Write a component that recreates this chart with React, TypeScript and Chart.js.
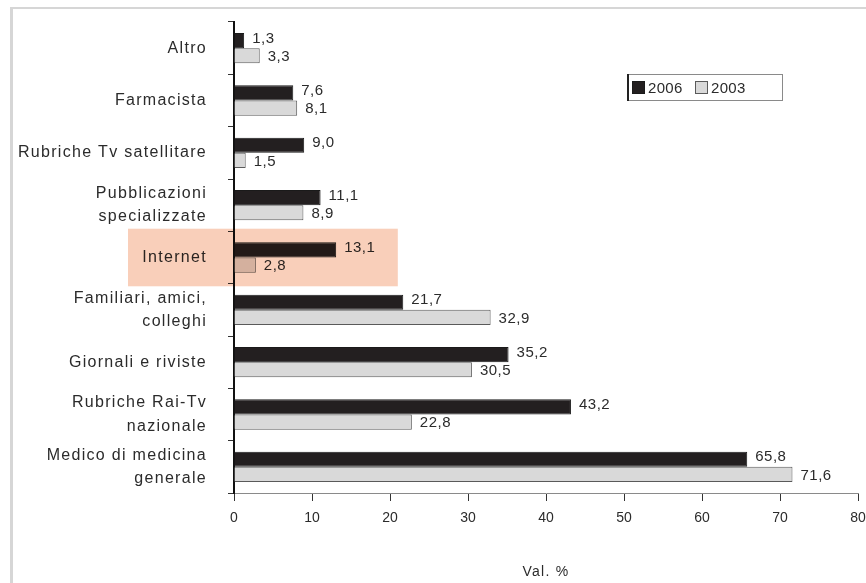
import { useEffect, useRef } from "react";
import { Chart, registerables } from "chart.js";

Chart.register(...registerables);

// Sources of health information, share of respondents (%)
const categories: (string | string[])[] = [
  "Altro",
  "Farmacista",
  "Rubriche Tv satellitare",
  ["Pubblicazioni", "specializzate"],
  "Internet",
  ["Familiari, amici,", "colleghi"],
  "Giornali e riviste",
  ["Rubriche Rai-Tv", "nazionale"],
  ["Medico di medicina", "generale"],
];
const values2006 = [1.3, 7.6, 9.0, 11.1, 13.1, 21.7, 35.2, 43.2, 65.8];
const values2003 = [3.3, 8.1, 1.5, 8.9, 2.8, 32.9, 30.5, 22.8, 71.6];
const seriesNames = ["2006", "2003"];
const xMin = 0;
const xMax = 80;
const xStep = 10;
const axisTitle = "Val. %";
// Row that gets the salmon highlight band, and how far along the value axis it reaches
const highlightIndex = 4;
const highlightReach = 21;

const FONT = "'Liberation Sans', Arial, sans-serif";
const DARK = "#231f20";
const LIGHT = "#d9d9d9";

const fmt = (v: number) => v.toFixed(1).replace(".", ",");

const framePlugin = {
  id: "frame",
  beforeDraw(chart: any) {
    const { ctx, width, height } = chart;
    ctx.save();
    ctx.fillStyle = "#ffffff";
    ctx.fillRect(0, 0, width, height);
    ctx.fillStyle = "#d6d6d6";
    ctx.fillRect(10, 7, 3, height - 7);
    ctx.fillRect(10, 7, width - 10, 2);
    ctx.restore();
    // category labels are set with a little tracking
    ctx.letterSpacing = "1.3px";
  },
  beforeDatasetsDraw(chart: any) {
    chart.ctx.letterSpacing = "0px";
  },
};

const valueLabelPlugin = {
  id: "valueLabels",
  afterDatasetsDraw(chart: any) {
    const { ctx } = chart;
    ctx.save();
    ctx.font = `15px ${FONT}`;
    ctx.letterSpacing = "0.5px";
    ctx.fillStyle = "#2b2b2b";
    ctx.textAlign = "left";
    ctx.textBaseline = "middle";
    chart.data.datasets.forEach((ds: any, di: number) => {
      const meta = chart.getDatasetMeta(di);
      meta.data.forEach((bar: any, i: number) => {
        const v = ds.data[i] as number;
        ctx.fillText(fmt(v), bar.x + 8, bar.y + (di === 0 ? -2 : 1));
      });
    });
    ctx.restore();
    ctx.letterSpacing = "0px";
  },
};

const legendBoxPlugin = {
  id: "legendBox",
  afterDraw(chart: any) {
    const { ctx, chartArea } = chart;
    const w = 156;
    const h = 27;
    const x = chartArea.right - 75 - w;
    const y = chartArea.top + 52;
    ctx.save();
    ctx.letterSpacing = "0.3px";
    ctx.fillStyle = "#ffffff";
    ctx.fillRect(x, y, w, h);
    ctx.strokeStyle = "#8a8a8a";
    ctx.lineWidth = 1;
    ctx.strokeRect(x + 0.5, y + 0.5, w - 1, h - 1);
    ctx.fillStyle = "#222";
    ctx.fillRect(x, y, 2, h);
    ctx.font = `15px ${FONT}`;
    ctx.textBaseline = "middle";
    ctx.textAlign = "left";
    let cx = x + 5;
    chart.data.datasets.forEach((ds: any) => {
      const sw = 13;
      ctx.fillStyle = ds.backgroundColor;
      ctx.fillRect(cx, y + 7, sw, sw);
      ctx.strokeStyle = ds.borderColor;
      ctx.lineWidth = 1;
      ctx.strokeRect(cx + 0.5, y + 7.5, sw - 1, sw - 1);
      ctx.fillStyle = "#2b2b2b";
      ctx.fillText(ds.label, cx + sw + 3, y + h / 2 + 1);
      cx += 63;
    });
    ctx.restore();
  },
};

const highlightPlugin = {
  id: "highlight",
  afterDraw(chart: any) {
    const { ctx, chartArea } = chart;
    const ys = chart.scales.y;
    const xs = chart.scales.x;
    const step = (ys.bottom - ys.top) / categories.length;
    const cy = ys.getPixelForValue(highlightIndex);
    const top = cy - step * 0.55;
    const bottom = cy + step * 0.55;
    const left = chartArea.left - 106;
    const right = xs.getPixelForValue(highlightReach);
    ctx.save();
    ctx.globalCompositeOperation = "multiply";
    ctx.fillStyle = "#f9cfba";
    ctx.fillRect(left, top, right - left, bottom - top);
    ctx.restore();
  },
};

export default function App() {
  const canvasRef = useRef<HTMLCanvasElement | null>(null);

  useEffect(() => {
    if (!canvasRef.current) return;
    const chart = new Chart(canvasRef.current, {
      type: "bar",
      data: {
        labels: categories as any,
        datasets: [
          {
            label: seriesNames[0],
            data: values2006,
            backgroundColor: DARK,
            borderColor: "#1a1a1a",
            borderWidth: 1,
            categoryPercentage: 0.58,
            barPercentage: 1,
          },
          {
            label: seriesNames[1],
            data: values2003,
            backgroundColor: LIGHT,
            borderColor: "#5a5a5a",
            borderWidth: 1,
            categoryPercentage: 0.58,
            barPercentage: 1,
          },
        ],
      },
      options: {
        indexAxis: "y",
        responsive: false,
        animation: false,
        devicePixelRatio: 1,
        layout: { padding: { left: 0, top: 22, right: 8, bottom: 0 } },
        plugins: {
          legend: { display: false },
          tooltip: { enabled: false },
        },
        scales: {
          x: {
            type: "linear",
            min: xMin,
            max: xMax,
            ticks: {
              stepSize: xStep,
              color: "#2b2b2b",
              padding: 9,
              maxRotation: 0,
              z: 1,
              font: { family: FONT, size: 14 },
            },
            grid: {
              drawOnChartArea: false,
              drawTicks: true,
              tickLength: 8,
              color: "#333",
            },
            border: { color: "#8a8a8a", width: 1 },
            title: {
              display: true,
              text: axisTitle,
              color: "#2b2b2b",
              font: { family: FONT, size: 14 },
              padding: { top: 0, bottom: 2 },
            },
            afterFit(scale: any) {
              scale.height = 90;
              scale.paddingLeft = 0;
              scale.paddingRight = 0;
            },
          },
          y: {
            type: "category",
            offset: true,
            ticks: {
              color: "#2b2b2b",
              padding: 21,
              font: { family: FONT, size: 16, lineHeight: 1.45 },
            },
            grid: {
              offset: true,
              drawOnChartArea: false,
              drawTicks: true,
              tickLength: 6,
              color: "#333",
            },
            border: { color: "#111", width: 2 },
            afterFit(scale: any) {
              scale.width = 234;
              scale.paddingTop = 0;
              scale.paddingBottom = 0;
            },
          },
        },
      },
      plugins: [framePlugin, valueLabelPlugin, highlightPlugin, legendBoxPlugin],
    });
    return () => chart.destroy();
  }, []);

  return (
    <div style={{ position: "fixed", left: 0, top: 0, width: 866, height: 583 }}>
      <canvas ref={canvasRef} width={866} height={583} />
    </div>
  );
}
